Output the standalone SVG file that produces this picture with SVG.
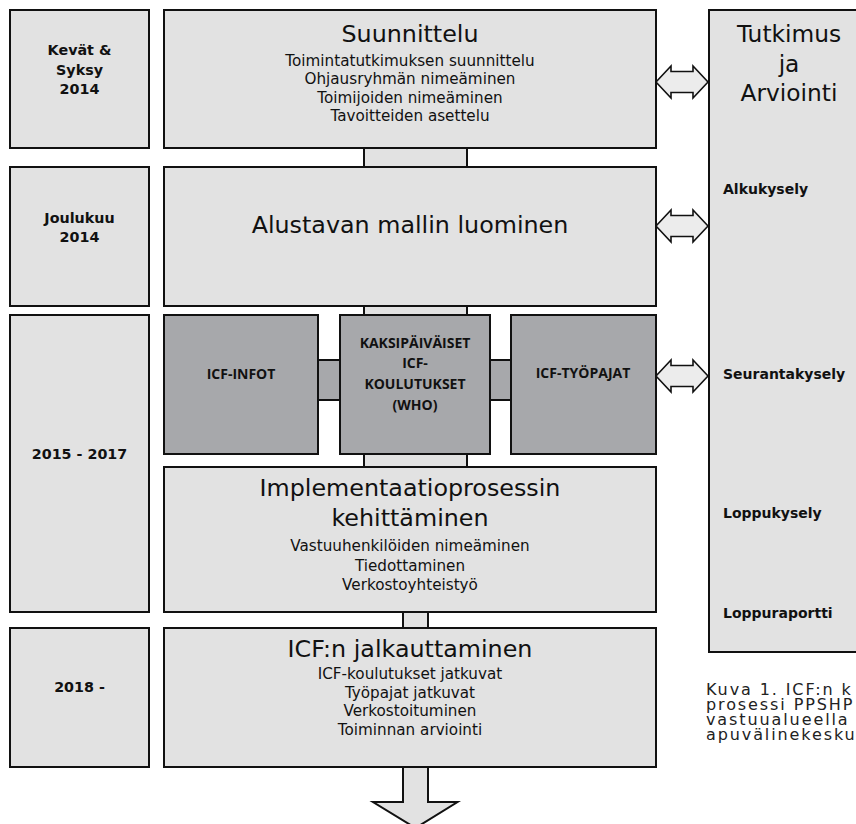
<svg xmlns="http://www.w3.org/2000/svg" width="856" height="824" viewBox="0 0 856 824">
<style>
  .lb { fill: #e2e2e2; stroke: #111; stroke-width: 2; }
  .db { fill: #a7a8ab; stroke: #111; stroke-width: 2; }
  .conn { fill: #e2e2e2; stroke: #111; stroke-width: 2; }
  .connd { fill: #a7a8ab; stroke: #111; stroke-width: 2; }
  .dbl { fill: #ececec; stroke: #111; stroke-width: 1.6; stroke-linejoin: miter; }
  text { font-family: "DejaVu Sans", Verdana, sans-serif; fill: #111; text-anchor: middle; }
  .date { font-weight: bold; font-size: 14.3px; }
  .title { font-size: 23.8px; }
  .sub { font-size: 15.2px; }
  .icf { font-family: "Open Sans", "Liberation Sans", sans-serif; font-weight: bold; font-size: 14px; }
  .side { font-weight: bold; font-size: 14px; text-anchor: start; }
  .cap { font-size: 16px; text-anchor: start; letter-spacing: 1.9px; fill: #222; }
</style>
<rect width="856" height="824" fill="#ffffff"/>

<g id="connectors">
  <rect class="conn" x="364" y="140" width="103" height="335"/>
  <path class="conn" d="M403,605 L428,605 L428,802 L457.5,802 L415.5,828 L373,802 L403,802 Z"/>
  <rect class="connd" x="318" y="360" width="22" height="40"/>
  <rect class="connd" x="490" y="360" width="21" height="40"/>
  <path class="dbl" d="M656,82 L671,66 L671,71.5 L693,71.5 L693,66 L708,82 L693,98 L693,92.5 L671,92.5 L671,98 Z"/>
  <path class="dbl" d="M656,226 L671,210 L671,215.5 L693,215.5 L693,210 L708,226 L693,242 L693,236.5 L671,236.5 L671,242 Z"/>
  <path class="dbl" d="M656,376 L671,360 L671,365.5 L693,365.5 L693,360 L708,376 L693,392 L693,386.5 L671,386.5 L671,392 Z"/>
</g>

<g id="date1">
  <rect class="lb" x="10" y="10" width="139" height="138"/>
  <text class="date" x="79.5" y="55">Kevät &amp;</text>
  <text class="date" x="79.5" y="74.5">Syksy</text>
  <text class="date" x="79.5" y="94">2014</text>
</g>
<g id="date2">
  <rect class="lb" x="10" y="167" width="139" height="139"/>
  <text class="date" x="79.5" y="222.5">Joulukuu</text>
  <text class="date" x="79.5" y="242">2014</text>
</g>
<g id="date3">
  <rect class="lb" x="10" y="315" width="139" height="297"/>
  <text class="date" x="79.5" y="459">2015 - 2017</text>
</g>
<g id="date4">
  <rect class="lb" x="10" y="628" width="139" height="139"/>
  <text class="date" x="79.5" y="692">2018 -</text>
</g>

<g id="suunnittelu">
  <rect class="lb" x="164" y="10" width="492" height="138"/>
  <text class="title" x="410" y="42">Suunnittelu</text>
  <text class="sub" x="410" y="65.5">Toimintatutkimuksen suunnittelu</text>
  <text class="sub" x="410" y="84">Ohjausryhmän nimeäminen</text>
  <text class="sub" x="410" y="102.5">Toimijoiden nimeäminen</text>
  <text class="sub" x="410" y="121">Tavoitteiden asettelu</text>
</g>
<g id="alustava">
  <rect class="lb" x="164" y="167" width="492" height="139"/>
  <text class="title" x="410" y="233">Alustavan mallin luominen</text>
</g>
<g id="icf-infot">
  <rect class="db" x="164" y="315" width="154" height="139"/>
  <text class="icf" x="241" y="379">ICF-INFOT</text>
</g>
<g id="koulutukset">
  <rect class="db" x="340" y="315" width="150" height="139"/>
  <text class="icf" x="415" y="347.5">KAKSIPÄIVÄISET</text>
  <text class="icf" x="415" y="368">ICF-</text>
  <text class="icf" x="415" y="389">KOULUTUKSET</text>
  <text class="icf" x="415" y="409.5">(WHO)</text>
</g>
<g id="tyopajat">
  <rect class="db" x="511" y="315" width="145" height="139"/>
  <text class="icf" x="583" y="377.5">ICF-TYÖPAJAT</text>
</g>
<g id="implementaatio">
  <rect class="lb" x="164" y="467" width="492" height="145"/>
  <text class="title" x="410" y="496">Implementaatioprosessin</text>
  <text class="title" x="410" y="526">kehittäminen</text>
  <text class="sub" x="410" y="551">Vastuuhenkilöiden nimeäminen</text>
  <text class="sub" x="410" y="570.5">Tiedottaminen</text>
  <text class="sub" x="410" y="590">Verkostoyhteistyö</text>
</g>
<g id="jalkauttaminen">
  <rect class="lb" x="164" y="628" width="492" height="139"/>
  <text class="title" x="410" y="657">ICF:n jalkauttaminen</text>
  <text class="sub" x="410" y="679">ICF-koulutukset jatkuvat</text>
  <text class="sub" x="410" y="697.5">Työpajat jatkuvat</text>
  <text class="sub" x="410" y="716">Verkostoituminen</text>
  <text class="sub" x="410" y="734.5">Toiminnan arviointi</text>
</g>
<g id="tutkimus">
  <rect class="lb" x="709" y="10" width="170" height="642"/>
  <text class="title" x="789" y="42" style="font-size:23.3px">Tutkimus</text>
  <text class="title" x="789" y="71.5" style="font-size:23.3px">ja</text>
  <text class="title" x="789" y="101" style="font-size:23.3px">Arviointi</text>
  <text class="side" x="723" y="193.5">Alkukysely</text>
  <text class="side" x="723" y="378.5">Seurantakysely</text>
  <text class="side" x="723" y="518">Loppukysely</text>
  <text class="side" x="723" y="618">Loppuraportti</text>
</g>
<g id="caption">
  <text class="cap" x="706" y="695">Kuva 1. ICF:n k</text>
  <text class="cap" x="706" y="710">prosessi PPSHP</text>
  <text class="cap" x="706" y="725">vastuualueella</text>
  <text class="cap" x="706" y="740">apuvälinekesku</text>
</g>
</svg>
